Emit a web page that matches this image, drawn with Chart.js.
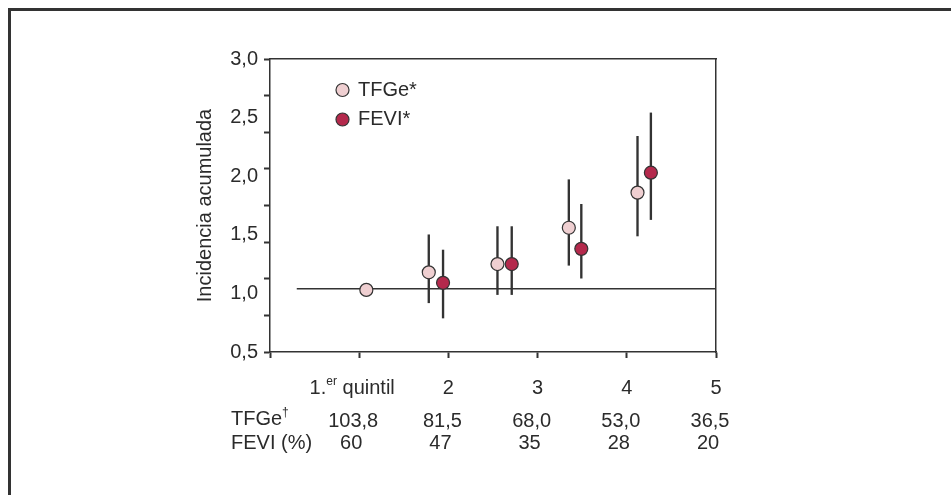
<!DOCTYPE html>
<html lang="es">
<head>
<meta charset="utf-8">
<title>Incidencia acumulada por quintil</title>
<script src="https://cdn.jsdelivr.net/npm/chart.js@4.4.1/dist/chart.umd.min.js"></script>
<style>
  html, body { margin: 0; padding: 0; background: #fff; overflow: hidden; }
  #contenedor { position: relative; width: 951px; height: 495px; overflow: hidden; }
  #marco { position: absolute; left: 8px; top: 8px; right: -20px; bottom: -20px;
           border-left: 3px solid #333; border-top: 3px solid #333; }
  #grafico { position: absolute; left: 0; top: 0; }
</style>
</head>
<body>
<div id="contenedor">
  <div id="marco"></div>
  <canvas id="grafico" width="951" height="495"></canvas>
</div>
<script>
// Quintiles y tabla de valores bajo el eje
var categorias = ['1.er quintil', '2', '3', '4', '5'];
var etiquetasFilas = ['TFGe†', 'FEVI (%)'];
var filaTFGe = ['103,8', '81,5', '68,0', '53,0', '36,5'];
var filaFEVI = ['60', '47', '35', '28', '20'];

// Posición horizontal de cada punto (unidades de quintil)
var posTFGe = [1.08, 1.78, 2.55, 3.35, 4.12];
var posFEVI = [1.94, 2.71, 3.49, 4.27];

// Incidencia acumulada e intervalos
var incTFGe = [1.03, 1.18, 1.25, 1.56, 1.86];
var infTFGe = [null, 0.92, 0.99, 1.24, 1.49];
var supTFGe = [null, 1.50, 1.57, 1.97, 2.34];

var incFEVI = [1.09, 1.25, 1.38, 2.03];
var infFEVI = [0.79, 0.99, 1.13, 1.63];
var supFEVI = [1.37, 1.57, 1.76, 2.54];

var lineaReferencia = 1.04;
var inicioReferencia = 0.3;

var colorTexto = '#2b2b2b';
var colorEjes = '#333';
var fuente = '"Liberation Sans", Arial, Helvetica, sans-serif';

var puntosTFGe = posTFGe.map(function(x, i) { return {x: x, y: incTFGe[i]}; });
var puntosFEVI = posFEVI.map(function(x, i) { return {x: x, y: incFEVI[i]}; });

// barras flotantes finas = intervalos
var intervalos = [];
posTFGe.forEach(function(x, i) {
    if (infTFGe[i] !== null) intervalos.push({x: x, y: [infTFGe[i], supTFGe[i]]});
});
posFEVI.forEach(function(x, i) {
    intervalos.push({x: x, y: [infFEVI[i], supFEVI[i]]});
});

// separa "1.er" y "TFGe†" en partes normales y superíndices
function partesDe(texto) {
    var m = texto.match(/^(\d+\.)(er)(.*)$/);
    if (m) return [[m[1], false], [m[2], true], [m[3], false]];
    m = texto.match(/^(.*)(†)$/);
    if (m) return [[m[1], false], [m[2], true]];
    return [[texto, false]];
}

function escribir(ctx, texto, x, y, alinear) {
    var partes = partesDe(texto);
    var normal = '20px ' + fuente, chica = '12px ' + fuente;
    var ancho = 0;
    partes.forEach(function(p) {
        ctx.font = p[1] ? chica : normal;
        ancho += ctx.measureText(p[0]).width;
    });
    var xi = alinear === 'center' ? x - ancho / 2 : x;
    ctx.textAlign = 'left';
    partes.forEach(function(p) {
        ctx.font = p[1] ? chica : normal;
        ctx.fillText(p[0], xi, p[1] ? y - 6 : y);
        xi += ctx.measureText(p[0]).width;
    });
}

var pluginTextos = {
    id: 'textosQuintiles',
    afterDraw: function(chart) {
        var ctx = chart.ctx, area = chart.chartArea, escalaX = chart.scales.x;
        ctx.save();
        ctx.textBaseline = 'middle';

        // leyenda dentro del área
        [0, 1].forEach(function(d, i) {
            var ds = chart.data.datasets[d];
            var cy = area.top + 31 + i * 29.5;
            ctx.beginPath();
            ctx.arc(area.left + 72.5, cy, ds.pointRadius, 0, Math.PI * 2);
            ctx.fillStyle = ds.backgroundColor;
            ctx.fill();
            ctx.lineWidth = ds.borderWidth;
            ctx.strokeStyle = ds.borderColor;
            ctx.stroke();
            ctx.fillStyle = colorTexto;
            escribir(ctx, ds.label, area.left + 88, cy, 'left');
        });

        ctx.fillStyle = colorTexto;
        categorias.forEach(function(c, i) {
            var px = escalaX.getPixelForValue(i + 1) - (i === 0 ? 7 : 0);
            escribir(ctx, c, px, area.bottom + 36, 'center');
        });

        escribir(ctx, etiquetasFilas[0], area.left - 39, area.bottom + 67, 'left');
        escribir(ctx, etiquetasFilas[1], area.left - 39, area.bottom + 91, 'left');
        filaTFGe.forEach(function(v, i) {
            escribir(ctx, v, escalaX.getPixelForValue(i + 1) - 6, area.bottom + 69, 'center');
        });
        filaFEVI.forEach(function(v, i) {
            escribir(ctx, v, escalaX.getPixelForValue(i + 1) - 8, area.bottom + 91, 'center');
        });
        ctx.restore();
    }
};

var ctx = document.getElementById('grafico').getContext('2d');
new Chart(ctx, {
    type: 'scatter',
    data: {
        datasets: [
            {
                type: 'scatter',
                label: 'TFGe*',
                data: puntosTFGe,
                backgroundColor: '#efcfd1',
                borderColor: colorEjes,
                borderWidth: 1.2,
                pointRadius: 6.5,
                order: 1
            },
            {
                type: 'scatter',
                label: 'FEVI*',
                data: puntosFEVI,
                backgroundColor: '#b4294c',
                borderColor: colorEjes,
                borderWidth: 1.2,
                pointRadius: 6.5,
                order: 0
            },
            {
                type: 'bar',
                label: 'Intervalo',
                data: intervalos,
                backgroundColor: colorEjes,
                borderWidth: 0,
                barThickness: 1.7,
                grouped: false,
                order: 2
            },
            {
                type: 'line',
                label: 'Referencia',
                data: [{x: inicioReferencia, y: lineaReferencia}, {x: 5, y: lineaReferencia}],
                borderColor: colorEjes,
                borderWidth: 1.5,
                pointRadius: 0,
                fill: false,
                order: 3
            }
        ]
    },
    options: {
        responsive: false,
        animation: false,
        events: [],
        layout: { padding: { left: 180, right: 235, top: 59, bottom: 137 } },
        plugins: { legend: { display: false }, tooltip: { enabled: false } },
        scales: {
            x: {
                type: 'linear', position: 'bottom', min: 0, max: 5, offset: false,
                ticks: { display: false, stepSize: 1 },
                grid: { offset: false, drawOnChartArea: false, drawTicks: true, tickLength: 6, tickWidth: 2, tickColor: colorEjes },
                border: { color: colorEjes, width: 1.5 },
                afterFit: function(s) { s.height = 6; }
            },
            xArriba: {
                type: 'linear', position: 'top', min: 0, max: 5,
                ticks: { display: false },
                grid: { display: false, drawTicks: false },
                border: { color: colorEjes, width: 1.5 },
                afterFit: function(s) { s.height = 0; }
            },
            y: {
                type: 'linear', position: 'left', weight: 1, min: 0.5, max: 3,
                ticks: {
                    stepSize: 0.5, padding: 6, color: colorTexto,
                    font: { family: fuente, size: 20 },
                    callback: function(v) { return v.toFixed(1).replace('.', ','); }
                },
                grid: { display: false, drawTicks: false },
                border: { display: false },
                title: {
                    display: true, text: 'Incidencia acumulada', color: colorTexto,
                    font: { family: fuente, size: 20 },
                    padding: { top: 13, bottom: 0 }
                },
                afterFit: function(s) { s.width = 84; }
            },
            yMarcas: {
                type: 'linear', position: 'left', weight: 0, min: 0, max: 8,
                ticks: { display: false, stepSize: 1 },
                grid: { drawOnChartArea: false, drawTicks: true, tickLength: 6, tickWidth: 2, tickColor: colorEjes },
                border: { color: colorEjes, width: 1.5 },
                afterFit: function(s) { s.width = 6; }
            },
            yDerecha: {
                type: 'linear', position: 'right', min: 0, max: 1,
                ticks: { display: false },
                grid: { display: false, drawTicks: false },
                border: { color: colorEjes, width: 1.5 },
                afterFit: function(s) { s.width = 0; }
            }
        }
    },
    plugins: [pluginTextos]
});
</script>
</body>
</html>
